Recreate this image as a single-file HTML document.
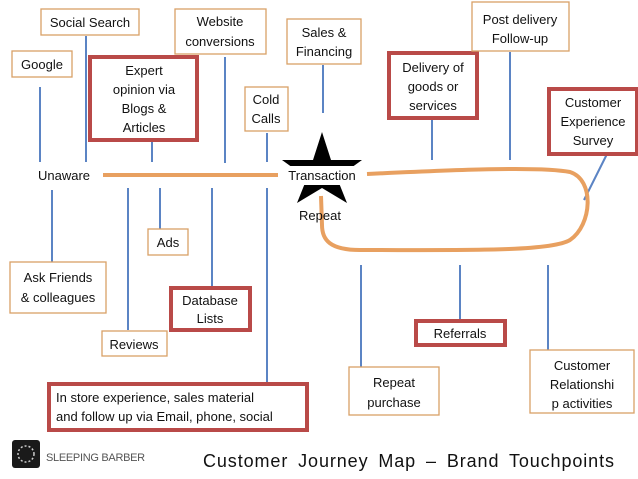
<!DOCTYPE html>
<html><head><meta charset="utf-8"><style>
html,body{margin:0;padding:0;background:#fff;}
svg{display:block;}
text{font-family:"Liberation Sans",sans-serif;font-size:13px;fill:#111;}
.o{fill:#fff;stroke:#d9a066;stroke-width:1.3;}
.r{fill:#fff;stroke:#b94a48;stroke-width:4;}
.b{stroke:#5b84c4;stroke-width:2;fill:none;}
</style></head><body>
<svg width="638" height="479" viewBox="0 0 638 479">
<g class="b">
<line x1="40" y1="87" x2="40" y2="162"/>
<line x1="86" y1="36" x2="86" y2="162"/>
<line x1="152" y1="141" x2="152" y2="162"/>
<line x1="225" y1="57" x2="225" y2="163"/>
<line x1="267" y1="133" x2="267" y2="162"/>
<line x1="323" y1="65" x2="323" y2="113"/>
<line x1="432" y1="120" x2="432" y2="160"/>
<line x1="510" y1="52" x2="510" y2="160"/>
<line x1="607" y1="154" x2="584" y2="200"/>
<line x1="52" y1="190" x2="52" y2="262"/>
<line x1="128" y1="188" x2="128" y2="330"/>
<line x1="160" y1="188" x2="160" y2="229"/>
<line x1="212" y1="188" x2="212" y2="287"/>
<line x1="267" y1="188" x2="267" y2="383"/>
<line x1="361" y1="265" x2="361" y2="367"/>
<line x1="460" y1="265" x2="460" y2="320"/>
<line x1="548" y1="265" x2="548" y2="350"/>
</g>
<polygon points="322,132 331,160 362,160 337,178 347,203 322,188 297,203 307,178 282,160 313,160" fill="#000"/>
<g stroke="#e8a060" stroke-width="4" fill="none">
<line x1="103" y1="175" x2="278" y2="175"/>
<path d="M367,174 C450,170 540,166 570,172 C595,180 592,225 570,240 C550,252 460,250 360,250 C330,250 322,240 322,225 L321,196"/>
</g>
<rect x="284" y="166" width="76" height="19" fill="#fff"/>
<text x="322" y="180" text-anchor="middle">Transaction</text>
<text x="320" y="220" text-anchor="middle">Repeat</text>
<text x="38" y="180">Unaware</text>
<rect class="o" x="41" y="9" width="98" height="26"/><text x="90" y="27" text-anchor="middle">Social Search</text>
<rect class="o" x="12" y="51" width="60" height="26"/><text x="42" y="69" text-anchor="middle">Google</text>
<rect class="o" x="175" y="9" width="91" height="45"/><text x="220" y="26" text-anchor="middle">Website</text><text x="220" y="46" text-anchor="middle">conversions</text>
<rect class="r" x="90" y="57" width="107" height="83"/><text x="144" y="75" text-anchor="middle">Expert</text><text x="144" y="94" text-anchor="middle">opinion via</text><text x="144" y="113" text-anchor="middle">Blogs &amp;</text><text x="144" y="132" text-anchor="middle">Articles</text>
<rect class="o" x="245" y="87" width="43" height="44"/><text x="266" y="104" text-anchor="middle">Cold</text><text x="266" y="123" text-anchor="middle">Calls</text>
<rect class="o" x="287" y="19" width="74" height="45"/><text x="324" y="37" text-anchor="middle">Sales &amp;</text><text x="324" y="56" text-anchor="middle">Financing</text>
<rect class="r" x="389" y="53" width="88" height="65"/><text x="433" y="72" text-anchor="middle">Delivery of</text><text x="433" y="91" text-anchor="middle">goods or</text><text x="433" y="110" text-anchor="middle">services</text>
<rect class="o" x="472" y="2" width="97" height="49"/><text x="520" y="24" text-anchor="middle">Post delivery</text><text x="520" y="43" text-anchor="middle">Follow-up</text>
<rect class="r" x="549" y="89" width="88" height="65"/><text x="593" y="107" text-anchor="middle">Customer</text><text x="593" y="126" text-anchor="middle">Experience</text><text x="593" y="145" text-anchor="middle">Survey</text>
<rect class="o" x="148" y="229" width="40" height="26"/><text x="168" y="247" text-anchor="middle">Ads</text>
<rect class="o" x="10" y="262" width="96" height="51"/><text x="58" y="282" text-anchor="middle">Ask Friends</text><text x="58" y="302" text-anchor="middle">&amp; colleagues</text>
<rect class="r" x="171" y="288" width="79" height="42"/><text x="210" y="305" text-anchor="middle">Database</text><text x="210" y="323" text-anchor="middle">Lists</text>
<rect class="o" x="102" y="331" width="65" height="25"/><text x="134" y="349" text-anchor="middle">Reviews</text>
<rect class="r" x="416" y="321" width="89" height="24"/><text x="460" y="338" text-anchor="middle">Referrals</text>
<rect class="o" x="349" y="367" width="90" height="48"/><text x="394" y="387" text-anchor="middle">Repeat</text><text x="394" y="407" text-anchor="middle">purchase</text>
<rect class="o" x="530" y="350" width="104" height="63"/><text x="582" y="370" text-anchor="middle">Customer</text><text x="582" y="389" text-anchor="middle">Relationshi</text><text x="582" y="408" text-anchor="middle">p activities</text>
<rect class="r" x="49" y="384" width="258" height="46"/><text x="56" y="402">In store experience, sales material</text><text x="56" y="421">and follow up via Email, phone, social</text>
<rect x="12" y="440" width="28" height="28" rx="3" fill="#1a1a1a"/>
<circle cx="26" cy="454" r="8" fill="none" stroke="#ccc" stroke-width="1.5" stroke-dasharray="2 2"/>
<text x="46" y="461" style="font-size:11px;fill:#555;letter-spacing:-0.3px">SLEEPING BARBER</text>
<text x="203" y="467" textLength="411" lengthAdjust="spacing" style="font-size:18px;word-spacing:4px">Customer Journey Map – Brand Touchpoints</text>
</svg>
</body></html>
